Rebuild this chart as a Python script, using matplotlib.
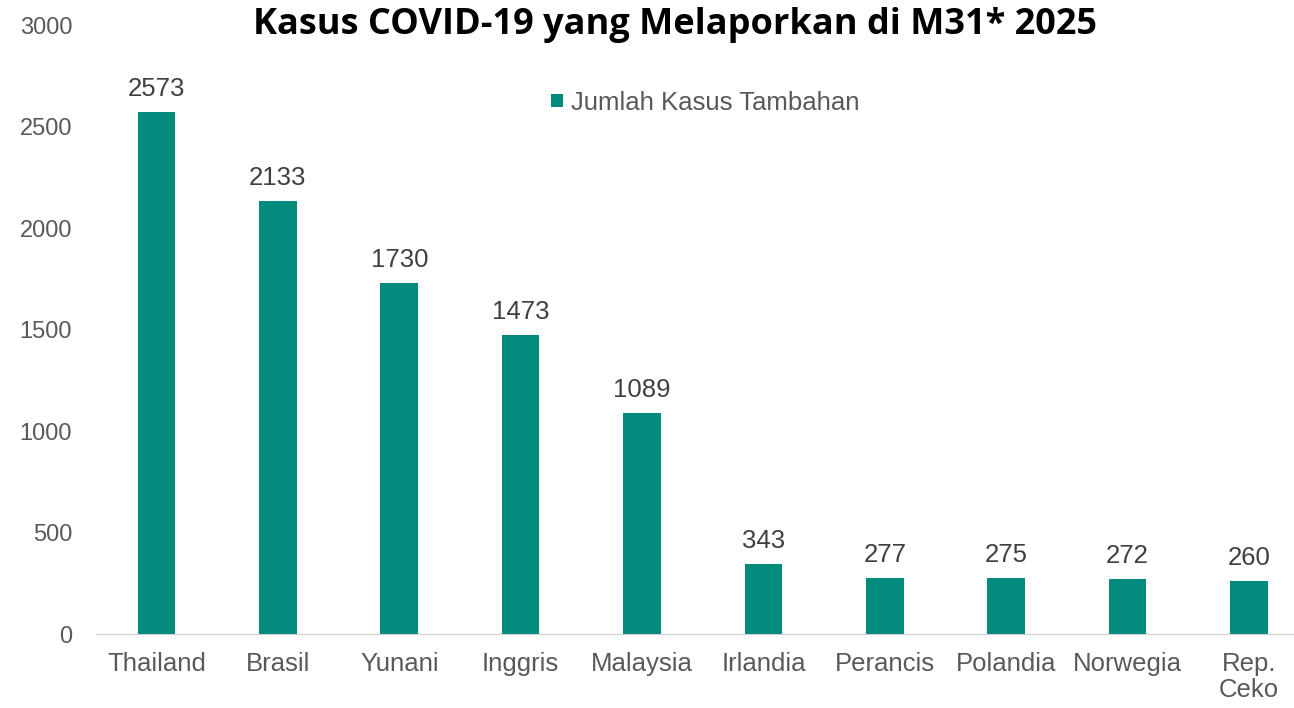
import matplotlib
matplotlib.use("Agg")
import matplotlib.pyplot as plt

# data
negara = ["Thailand", "Brasil", "Yunani", "Inggris", "Malaysia", "Irlandia",
          "Perancis", "Polandia", "Norwegia", "Rep.\nCeko"]
kasus = [2573, 2133, 1730, 1473, 1089, 343, 277, 275, 272, 260]

warna = "#008B7D"
abu = "#595959"

plt.rcParams["font.family"] = ["Liberation Sans", "DejaVu Sans"]

fig = plt.figure(figsize=(12.94, 7.08), dpi=100)
ax = fig.add_axes([0.074, 0.1045, 0.926, 0.860])

x = list(range(len(negara)))
bars = ax.bar(x, kasus, width=0.31, color=warna, label="Jumlah Kasus Tambahan")

for xi, v in zip(x, kasus):
    ax.annotate(str(v), (xi, v), xytext=(0, 8), textcoords="offset points",
                ha="center", va="bottom", fontsize=18.5, color="#404040")

ax.set_ylim(0, 3000)
ax.set_xlim(-0.5, 9.37)
ax.set_yticks(range(0, 3001, 500))
ax.set_xticks(x)
ax.set_xticklabels(negara, linespacing=1.1)
ax.tick_params(axis="both", length=0, colors=abu)
ax.tick_params(axis="x", labelsize=18.5, pad=13)
ax.tick_params(axis="y", labelsize=17, pad=17)
for s in ["top", "right", "left"]:
    ax.spines[s].set_visible(False)
ax.spines["bottom"].set_color("#D0D0D0")

fig.text(0.522, 0.965, "Kasus COVID-19 yang Melaporkan di M31* 2025",
         ha="center", va="center", fontsize=26, fontweight="bold",
         family="Open Sans", color="black")

ax.legend(loc="center", bbox_to_anchor=(0.545, 0.855), bbox_transform=fig.transFigure,
          frameon=False, fontsize=18.5, handlelength=0.45, handleheight=0.45,
          handletextpad=0.3, labelcolor=abu)

fig.savefig("out.png", dpi=100)
